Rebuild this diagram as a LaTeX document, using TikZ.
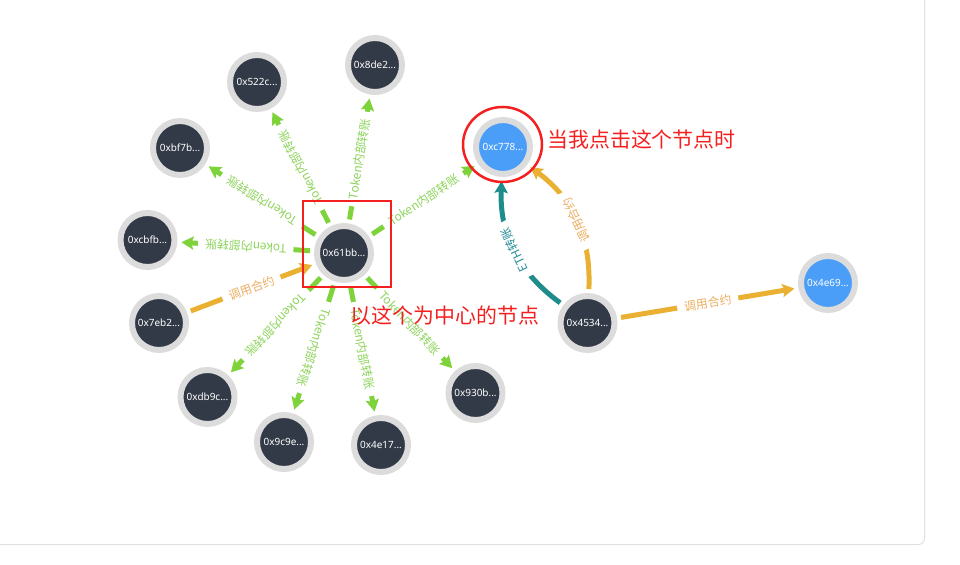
\documentclass[tikz,border=0pt]{standalone}
\usepackage{fontspec}
\usepackage{tikz}
\usetikzlibrary{arrows.meta}
\newfontfamily\cjk{Noto Sans CJK SC}
\newfontfamily\addrfont{Noto Sans}

\definecolor{nodedark}{HTML}{333A47}
\definecolor{nodeblue}{HTML}{4A9EF8}
\definecolor{ringgray}{HTML}{DCDCDC}
\definecolor{tokgreen}{HTML}{7ED23A}
\definecolor{toklabel}{HTML}{8ED45C}
\definecolor{callorange}{HTML}{E9B032}
\definecolor{calllabel}{HTML}{EDAE62}
\definecolor{ethteal}{HTML}{1F8C8C}
\definecolor{ethlabel}{HTML}{2A8F9A}
\definecolor{markred}{HTML}{F42020}
\definecolor{framegray}{HTML}{DFE1E6}

\begin{document}
\begin{tikzpicture}[x=1bp, y=-1bp,
    addr/.style={circle, minimum size=54bp, inner sep=0pt, line width=6bp, draw=ringgray,
        fill=nodedark, outer sep=7bp, text=white, font=\addrfont\fontsize{10}{11}\selectfont},
    blueaddr/.style={addr, fill=nodeblue},
    tiphead/.style={-{Stealth[length=12bp, width=13bp, inset=2bp]}},
    tok/.style={draw=tokgreen, line width=5bp, tiphead},
    call/.style={draw=callorange, line width=5bp, tiphead},
    eth/.style={draw=ethteal, line width=5bp, tiphead},
    lab/.style={sloped, allow upside down, fill=white, inner xsep=7bp, inner ysep=1bp,
        font=\cjk\fontsize{12}{13}\selectfont},
    redmark/.style={draw=markred, line width=2.5bp},
    note/.style={text=markred, font=\cjk\fontsize{21}{23}\selectfont}]

    \clip (0,0) rectangle (960,565);
    \draw[framegray, line width=1bp, rounded corners=6bp] (-20,-20) rectangle (924.5,544.5);

    \node[addr] (n61bb) at (344,253) {0x61bb...};
    \node[addr] (n8de2) at (375,65) {0x8de2...};
    \node[addr] (n522c) at (257,82) {0x522c...};
    \node[addr] (nbf7b) at (180,148) {0xbf7b...};
    \node[addr] (ncbfb) at (147.5,240) {0xcbfb...};
    \node[addr] (n7eb2) at (159,323) {0x7eb2...};
    \node[addr] (ndb9c) at (207.5,397) {0xdb9c...};
    \node[addr] (n9c9e) at (284,442) {0x9c9e...};
    \node[addr] (n4e17) at (381,445) {0x4e17...};
    \node[addr] (n930b) at (475.5,393) {0x930b...};
    \node[blueaddr] (nc778) at (503,147) {0xc778...};
    \node[addr] (n4534) at (587.5,323) {0x4534...};
    \node[blueaddr] (n4e69) at (828,283) {0x4e69...};

    \draw[tok] (n61bb) -- node[lab, text=toklabel] {Token内部转账} (n8de2);
    \draw[tok] (n61bb) -- node[lab, text=toklabel] {Token内部转账} (n522c);
    \draw[tok] (n61bb) -- node[lab, text=toklabel] {Token内部转账} (nbf7b);
    \draw[tok] (n61bb) -- node[lab, text=toklabel] {Token内部转账} (ncbfb);
    \draw[tok] (n61bb) -- node[lab, text=toklabel] {Token内部转账} (ndb9c);
    \draw[tok] (n61bb) -- node[lab, text=toklabel] {Token内部转账} (n9c9e);
    \draw[tok] (n61bb) -- node[lab, text=toklabel] {Token内部转账} (n4e17);
    \draw[tok] (n61bb) -- node[lab, text=toklabel] {Token内部转账} (n930b);
    \draw[tok] (n61bb) -- node[lab, text=toklabel] {Token内部转账} (nc778);
    \draw[call] (n7eb2) -- node[lab, text=calllabel] {调用合约} (n61bb);

    \draw[eth] (n4534) to[bend left=28] node[lab, text=ethlabel] {ETH转账} (nc778);
    \draw[call] (n4534) to[bend right=28] node[lab, text=calllabel] {调用合约} (nc778);
    \draw[call] (n4534) -- node[lab, text=calllabel] {调用合约} (n4e69);

    \draw[redmark] (502.5,144.5) ellipse [x radius=39.5, y radius=37.5];
    \draw[redmark] (303,201) rectangle (391,287);
    \node[note] (noteclick) at (641.5,140) {当我点击这个节点时};
    \node[note] (notecenter) at (445,316) {以这个为中心的节点};
\end{tikzpicture}
\end{document}
